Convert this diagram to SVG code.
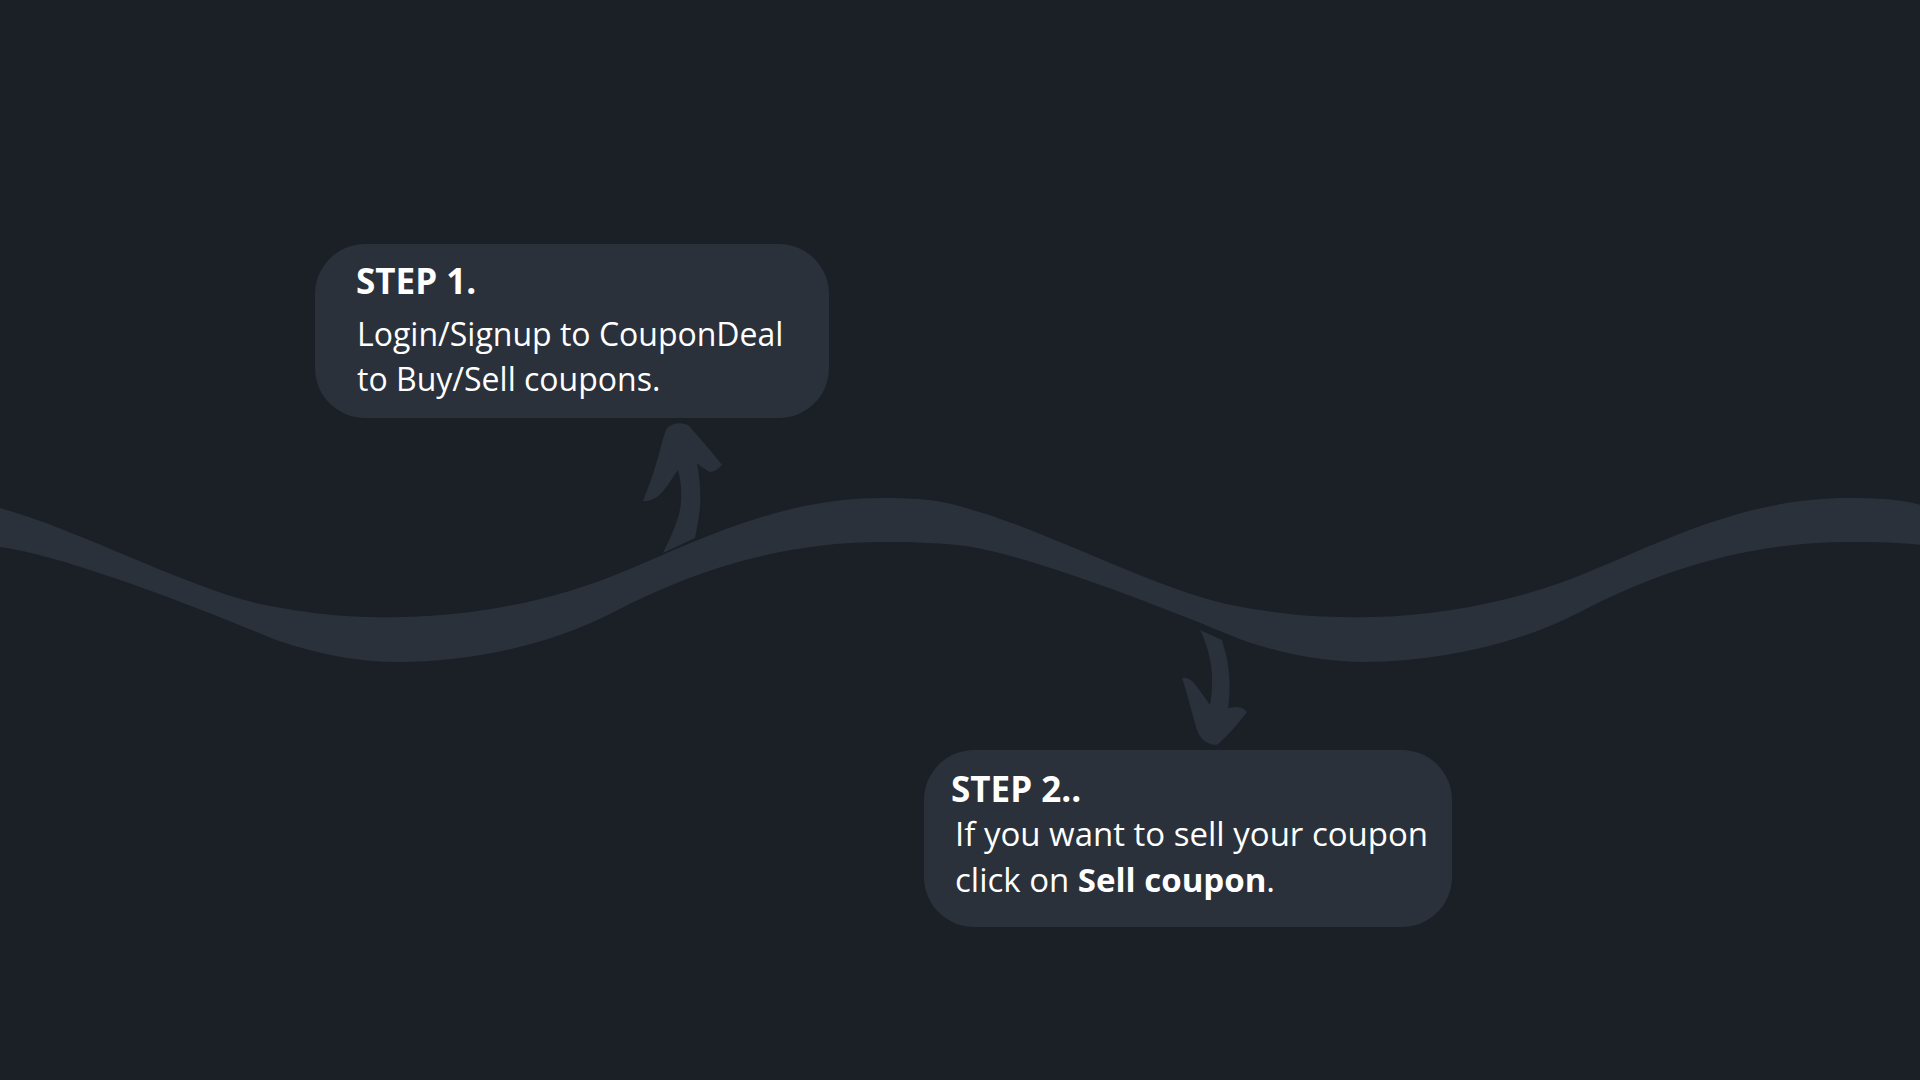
<svg xmlns="http://www.w3.org/2000/svg" width="1920" height="1080" viewBox="0 0 1920 1080">
<style>
.bg{fill:#1b1f26}
.shape{fill:#2a313b}
.box{fill:#2a313b}
.h{font-family:"Open Sans","Liberation Sans",sans-serif;font-weight:700;font-size:35px;fill:#ffffff}
.t{font-family:"Open Sans","Liberation Sans",sans-serif;font-weight:400;font-size:32px;fill:#ffffff}
.t2{font-size:33px}
.b{font-weight:700}
</style>
<rect class="bg" x="0" y="0" width="1920" height="1080"/>
<g id="connectors">
<path id="wave" class="shape" d="M0,508 C80,530 180,585 260,604 C320,616 360,618 404,617 C480,616 560,598 620,573 C700,540 780,498 882,498 C920,498 940,500 966,508 C1046,530 1146,585 1226,604 C1286,616 1326,618 1370,617 C1446,616 1526,598 1586,573 C1666,540 1746,498 1848,498 C1886,498 1906,500 1932,508 L1932,546 C1906,543 1886,542 1848,542 C1746,542 1656,572 1578,613 C1516,645 1436,662 1364,662 C1326,662 1286,655 1242,640 C1146,600 1026,555 966,546 C940,543 920,542 882,542 C780,542 690,572 612,613 C550,645 470,662 398,662 C360,662 320,655 276,640 C180,600 60,555 0,547 Z"/>
<path id="arrow-up" class="shape" d="M663,553 C672,535 681,515 681,500 C682,488 680,478 678,470 C672,478 666,490 657,497 C652,500 646,502 643,501 C648,488 655,470 660,450 C663,440 664,432 668,427 C674,423 680,422 688,425 C698,436 712,452 722,465 C718,469 714,472 710,472 C706,470 700,466 697,463 C700,480 701,495 700,507 C699,518 697,528 695,538 Z"/>
<path id="arrow-down" class="shape" d="M1200,630 C1205,640 1209,652 1211,665 C1213,680 1212,694 1210,705 C1204,696 1198,688 1193,682 C1190,679 1186,677 1182,678 C1186,690 1190,705 1194,720 C1197,732 1200,738 1206,742 C1210,744 1215,746 1218,744 C1228,735 1238,724 1247,712 C1244,708 1240,707 1236,707 C1233,707 1230,708 1228,708 C1230,695 1230,680 1228,665 C1227,656 1224,648 1222,640 Z"/>
</g>
<g id="step1">
<rect class="box" x="315" y="244" width="514" height="174" rx="50" ry="50"/>
<text class="h" x="356" y="294">STEP 1.</text>
<text class="t" x="357" y="346">Login/Signup to CouponDeal</text>
<text class="t" x="357" y="391">to Buy/Sell coupons.</text>
</g>
<g id="step2">
<rect class="box" x="924" y="750" width="528" height="177" rx="50" ry="50"/>
<text class="h" x="951" y="802">STEP 2..</text>
<text class="t t2" x="955" y="846">If you want to sell your coupon</text>
<text class="t t2" x="955" y="892">click on <tspan class="b">Sell coupon</tspan>.</text>
</g>
</svg>
